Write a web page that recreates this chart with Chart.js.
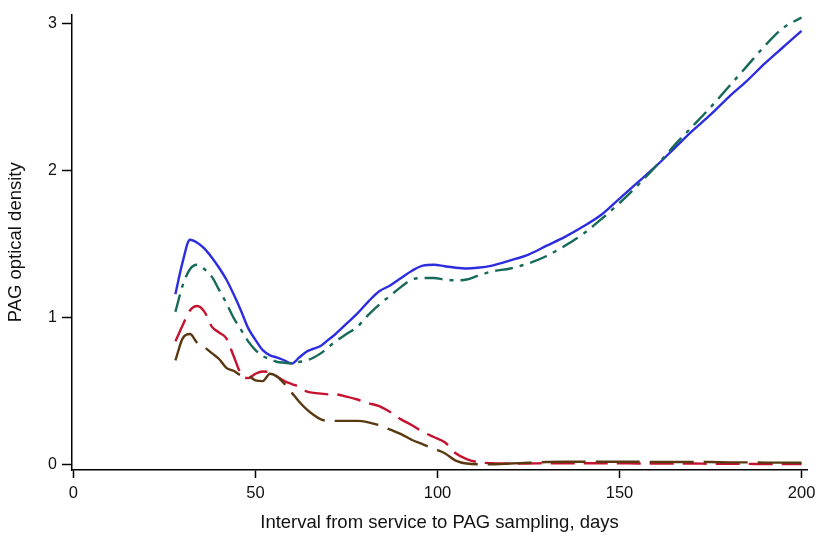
<!DOCTYPE html>
<html>
<head>
<meta charset="utf-8">
<script src="https://cdn.jsdelivr.net/npm/chart.js@4"></script>
<style>
  html, body { margin: 0; padding: 0; background: #fff; }
  #wrap { width: 816px; height: 536px; }
</style>
</head>
<body>
<div id="wrap"><canvas id="pagChart" width="816" height="536"></canvas></div>
<script>
// days since service (shared x values)
const days = [28, 30, 32, 34, 36, 38, 40, 42, 44, 46, 48, 50, 52, 54, 56, 58, 60, 62, 64, 66, 68, 70, 72, 75, 78, 81, 84, 87, 90, 93, 96, 99, 102, 105, 108, 111, 115, 120, 125, 130, 135, 140, 145, 150, 155, 160, 165, 170, 175, 180, 185, 190, 195, 200];

const blueVals = [1.16, 1.38, 1.53, 1.51, 1.47, 1.41, 1.34, 1.26, 1.16, 1.05, 0.93, 0.85, 0.78, 0.745, 0.73, 0.71, 0.69, 0.73, 0.77, 0.79, 0.81, 0.85, 0.89, 0.96, 1.03, 1.11, 1.18, 1.22, 1.27, 1.32, 1.355, 1.36, 1.35, 1.34, 1.335, 1.34, 1.355, 1.39, 1.43, 1.49, 1.55, 1.62, 1.70, 1.81, 1.92, 2.03, 2.15, 2.27, 2.38, 2.50, 2.61, 2.73, 2.84, 2.95];

const greenVals = [1.04, 1.22, 1.33, 1.36, 1.33, 1.28, 1.19, 1.10, 1.00, 0.92, 0.84, 0.78, 0.74, 0.72, 0.70, 0.695, 0.69, 0.70, 0.71, 0.73, 0.76, 0.80, 0.84, 0.89, 0.94, 1.02, 1.09, 1.15, 1.21, 1.26, 1.27, 1.27, 1.26, 1.255, 1.26, 1.285, 1.315, 1.335, 1.37, 1.42, 1.49, 1.57, 1.67, 1.78, 1.90, 2.03, 2.17, 2.30, 2.43, 2.57, 2.71, 2.85, 2.97, 3.04];

const redVals = [0.84, 0.95, 1.05, 1.08, 1.04, 0.94, 0.90, 0.86, 0.74, 0.62, 0.59, 0.62, 0.635, 0.63, 0.60, 0.57, 0.55, 0.53, 0.50, 0.49, 0.485, 0.48, 0.48, 0.465, 0.445, 0.42, 0.40, 0.36, 0.31, 0.27, 0.225, 0.19, 0.155, 0.08, 0.04, 0.02, 0.012, 0.01, 0.01, 0.012, 0.012, 0.012, 0.012, 0.012, 0.01, 0.01, 0.01, 0.01, 0.008, 0.008, 0.008, 0.006, 0.006, 0.006];

const brownVals = [0.71, 0.86, 0.89, 0.83, 0.80, 0.76, 0.72, 0.66, 0.64, 0.61, 0.605, 0.575, 0.57, 0.62, 0.60, 0.55, 0.49, 0.43, 0.38, 0.34, 0.31, 0.30, 0.30, 0.30, 0.30, 0.29, 0.27, 0.24, 0.21, 0.17, 0.14, 0.11, 0.08, 0.03, 0.01, 0.005, 0.005, 0.01, 0.015, 0.02, 0.022, 0.022, 0.022, 0.022, 0.022, 0.02, 0.02, 0.02, 0.02, 0.018, 0.018, 0.016, 0.016, 0.015];

const xTicks = [0, 50, 100, 150, 200];
const yTicks = [0, 1, 2, 3];

const FONT = "'Liberation Sans', Arial, sans-serif";

function toPoints(vals) {
  return vals.map((v, i) => ({ x: days[i], y: v }));
}

function makeSet(vals, color, dash) {
  return {
    data: toPoints(vals),
    borderColor: color,
    borderWidth: 2.4,
    borderDash: dash,
    pointRadius: 0,
    fill: false,
    cubicInterpolationMode: "monotone",
  };
}

const ctx = document.getElementById("pagChart").getContext("2d");
const chart = new Chart(ctx, {
  type: "line",
  data: {
    datasets: [
      makeSet(brownVals, "#5a3812", [44, 10]),
      makeSet(redVals, "#c4122f", [24, 9]),
      makeSet(greenVals, "#176a5a", [18, 7, 4, 7]),
      makeSet(blueVals, "#2d2de0", []),
    ],
  },
  options: {
    responsive: false,
    animation: false,
    layout: { padding: { top: 10, right: 9, left: 5, bottom: 2 } },
    plugins: {
      legend: { display: false },
      tooltip: { enabled: false },
    },
    scales: {
      x: {
        type: "linear",
        min: -0.4,
        max: 201.5,
        afterBuildTicks: (axis) => {
          axis.ticks = xTicks.map((v) => ({ value: v }));
        },
        afterFit: (axis) => {
          axis.height = 64;
          axis.paddingRight = 0;
          axis.paddingLeft = 0;
        },
        grid: {
          drawOnChartArea: false,
          drawTicks: true,
          tickLength: 8,
          color: "#000",
          tickWidth: 1.5,
        },
        border: { display: true, color: "#000", width: 1.5 },
        ticks: {
          color: "#111",
          font: { family: FONT, size: 16.5 },
          padding: 6,
          maxRotation: 0,
        },
        title: {
          display: true,
          text: "Interval from service to PAG sampling, days",
          color: "#111",
          font: { family: FONT, size: 18.5 },
          padding: { top: 4, bottom: 0 },
        },
      },
      y: {
        type: "linear",
        min: -0.034,
        max: 3.06,
        afterBuildTicks: (axis) => {
          axis.ticks = yTicks.map((v) => ({ value: v }));
        },
        afterFit: (axis) => {
          axis.width = 67;
        },
        grid: {
          drawOnChartArea: false,
          drawTicks: true,
          tickLength: 10,
          color: "#000",
          tickWidth: 1.5,
        },
        border: { display: true, color: "#000", width: 1.5 },
        ticks: {
          color: "#111",
          font: { family: FONT, size: 16 },
          padding: 5,
        },
        title: {
          display: true,
          text: "PAG optical density",
          color: "#111",
          font: { family: FONT, size: 18.5 },
          padding: { top: 0, bottom: 4 },
        },
      },
    },
  },
});
</script>
</body>
</html>
